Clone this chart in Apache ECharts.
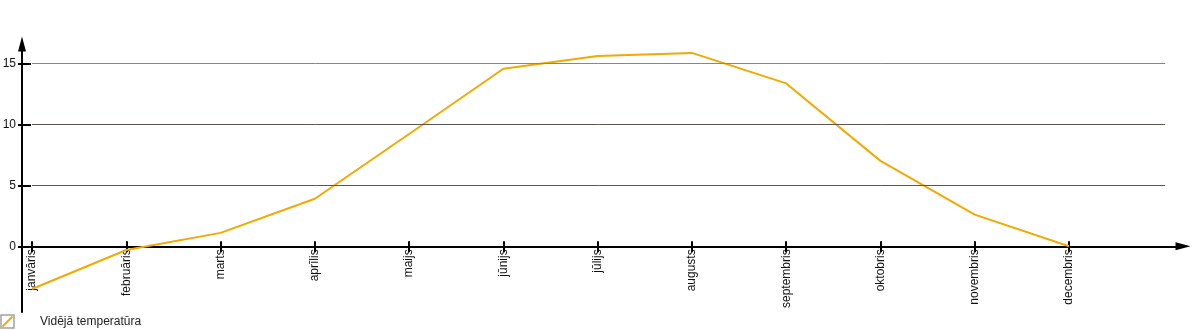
<!DOCTYPE html>
<html>
<head>
<meta charset="utf-8">
<script src="https://cdn.jsdelivr.net/npm/echarts@6/dist/echarts.min.js"></script>
<style>html,body{margin:0;padding:0;background:#fff}#c{width:1200px;height:330px}</style>
</head>
<body>
<div id="c"></div>
<script>
var categories = ['janvāris','februāris','marts','aprīlis','maijs','jūnijs','jūlijs','augusts','septembris','oktobris','novembris','decembris'];
var temperatures = [-3.5, -0.3, 1.1, 3.9, 9.2, 14.55, 15.6, 15.85, 13.35, 7.0, 2.6, 0.0];
var yTicks = [0, 5, 10, 15];
var seriesName = 'Vidējā temperatūra';

var FONT = '"Liberation Sans", Arial, sans-serif';
var xMin = -0.1061, xMax = 12.209, yMin = -5.385, yMax = 16.58;
var tickIdx = categories.map(function (c, i) { return i; });
var lineData = temperatures.map(function (v, i) { return [i, v]; });

var chart = echarts.init(document.getElementById('c'), null, { renderer: 'canvas' });
chart.setOption({
  animation: false,
  grid: [
    { left: 22, right: 17, top: 44, bottom: 18, containLabel: false, outerBoundsMode: 'none' },
    { left: 22, right: 17, top: 44, bottom: 83.7, containLabel: false, outerBoundsMode: 'none' }
  ],
  xAxis: [
    {
      gridIndex: 0, type: 'value', min: xMin, max: xMax, show: false,
      axisLine: { onZero: false }
    },
    {
      gridIndex: 1, type: 'value', position: 'bottom', min: xMin, max: xMax,
      axisLine: { show: true, onZero: false, symbol: ['none', 'triangle'], symbolSize: [8, 15], lineStyle: { color: '#000', width: 2 } },
      axisTick: { show: true, length: 6, customValues: tickIdx, lineStyle: { color: '#000', width: 2 } },
      axisLabel: { show: true, customValues: tickIdx, rotate: 90, margin: 3, fontSize: 12, color: '#111', fontFamily: FONT,
        formatter: function (v) { return categories[Math.round(v)]; } },
      splitLine: { show: false }
    },
    {
      gridIndex: 1, type: 'value', position: 'bottom', min: xMin, max: xMax,
      axisLine: { show: false, onZero: false },
      axisTick: { show: true, inside: true, length: 5, customValues: tickIdx, lineStyle: { color: '#000', width: 2 } },
      axisLabel: { show: false },
      splitLine: { show: false }
    }
  ],
  yAxis: [
    {
      gridIndex: 0, type: 'value', position: 'left', min: yMin, max: yMax,
      axisLine: { show: true, onZero: false, symbol: ['none', 'triangle'], symbolSize: [8, 15], lineStyle: { color: '#000', width: 2 } },
      axisTick: { show: true, length: 4, customValues: yTicks, lineStyle: { color: '#000', width: 2 } },
      axisLabel: { show: true, customValues: yTicks, margin: 6, fontSize: 12, color: '#111', fontFamily: FONT },
      splitLine: { show: false }
    },
    {
      gridIndex: 0, type: 'value', position: 'left', min: yMin, max: yMax,
      axisLine: { show: false, onZero: false },
      axisTick: { show: true, inside: true, length: 9, customValues: yTicks, lineStyle: { color: '#000', width: 2 } },
      axisLabel: { show: false },
      splitLine: { show: false }
    },
    {
      gridIndex: 1, type: 'value', min: 0, max: 1, show: false,
      axisLine: { onZero: false }
    }
  ],
  series: [
    {
      type: 'line', name: 'grid', xAxisIndex: 0, yAxisIndex: 0, z: 1, silent: true,
      data: lineData, showSymbol: false, symbol: 'none', lineStyle: { opacity: 0 },
      markLine: {
        silent: true, symbol: ['none', 'none'], label: { show: false }, animation: false,
        data: yTicks.filter(function (v) { return v !== 0; }).map(function (v) {
          return [
            { coord: [0, v], lineStyle: { color: v === 15 ? '#878787' : '#5e5454', width: 1, type: 'solid' } },
            { coord: [12.02, v] }
          ];
        })
      }
    },
    {
      type: 'line', name: seriesName, xAxisIndex: 0, yAxisIndex: 0, z: 3,
      data: lineData, showSymbol: false, symbol: 'none',
      lineStyle: { color: '#f2a900', width: 2 }
    }
  ],
  graphic: [
    { type: 'rect', shape: { x: 1, y: 315, width: 13, height: 13 }, style: { fill: '#fff', stroke: '#9ea59e', lineWidth: 1.5 }, z: 10 },
    { type: 'line', shape: { x1: 2.5, y1: 326.5, x2: 12.5, y2: 316.5 }, style: { stroke: '#f2a900', lineWidth: 2 }, z: 11 },
    { type: 'text', left: 40, top: 316, style: { text: seriesName, fontSize: 12, fill: '#222', fontFamily: FONT }, z: 10 }
  ]
});
</script>
</body>
</html>
